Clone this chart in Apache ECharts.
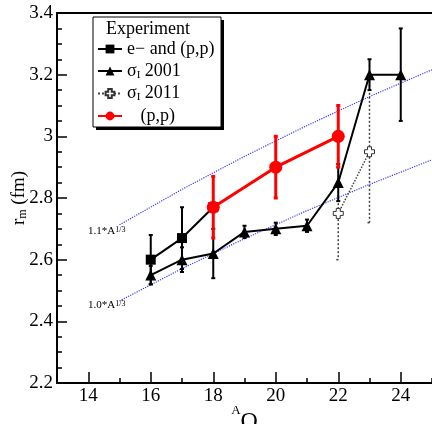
<!DOCTYPE html>
<html>
<head>
<meta charset="utf-8">
<script src="https://cdn.jsdelivr.net/npm/echarts@6/dist/echarts.min.js"></script>
<style>
  html, body { margin: 0; padding: 0; background: #fff; }
  #main { width: 432px; height: 424px; }
</style>
</head>
<body>
<div id="main"></div>
<script>
  // e- and (p,p)
  var sqX = [16, 17, 18];
  var sqY = [2.60, 2.67, 2.77];
  var sqErr = [0.08, 0.10, 0];
  // sigma_I 2001
  var triX = [16, 17, 18, 19, 20, 21, 22, 23, 24];
  var triY = [2.55, 2.60, 2.62, 2.69, 2.70, 2.71, 2.85, 3.20, 3.20];
  var triErr = [0.03, 0.04, 0.08, 0.02, 0.02, 0.02, 0.06, 0.05, 0.15];
  // sigma_I 2011
  var crX = [22, 23];
  var crY = [2.75, 2.95];
  var crErr = [0.15, 0.23];
  // (p,p)
  var redX = [18, 20, 22];
  var redY = [2.77, 2.90, 3.00];
  var redErr = [0.10, 0.10, 0.10];
  // r = c*A^(1/3) guide lines
  var refA = [15, 17, 19, 21, 23, 25];
  var ref10 = [2.466, 2.571, 2.668, 2.759, 2.844, 2.924];
  var ref11 = [2.713, 2.828, 2.935, 3.035, 3.129, 3.216];
  var xMajor = [14, 16, 18, 20, 22, 24];

  var serif = 'Liberation Serif';

  function pts(xs, ys) {
    return xs.map(function (x, i) { return [x, ys[i]]; });
  }
  function errPts(xs, ys, es) {
    return xs.map(function (x, i) { return [x, ys[i], es[i]]; });
  }
  function errorBars(color, width, dash) {
    return function (params, api) {
      var x = api.value(0), y = api.value(1), e = api.value(2);
      if (!e) return null;
      var top = api.coord([x, y + e]);
      var bot = api.coord([x, y - e]);
      var style = { stroke: color, lineWidth: width, lineDash: dash || null };
      return {
        type: 'group',
        children: [
          { type: 'line', shape: { x1: top[0], y1: top[1], x2: bot[0], y2: bot[1] }, style: style },
          { type: 'line', shape: { x1: top[0] - 2, y1: top[1], x2: top[0] + 2, y2: top[1] }, style: style },
          { type: 'line', shape: { x1: bot[0] - 2, y1: bot[1], x2: bot[0] + 2, y2: bot[1] }, style: style }
        ]
      };
    };
  }

  var names = {
    'e− and (p,p)': '{t|e− and (p,p)}',
    'σI 2001': '{t|σ}{sub|I}{t| 2001}',
    'σI 2011': '{t|σ}{sub|I}{t| 2011}',
    '(p,p)': '{t|   (p,p)}'
  };

  var chart = echarts.init(document.getElementById('main'));
  var option = {
    animation: false,
    grid: { left: 57, top: 13, right: 0, bottom: 41, containLabel: false, outerBoundsMode: 'none' },
    xAxis: [
      {
        type: 'value', min: 13, max: 25, interval: 1, position: 'bottom',
        axisLine: { lineStyle: { color: '#000', width: 2 } },
        axisTick: { inside: true, length: 5, lineStyle: { color: '#000', width: 1.5 } },
        axisLabel: { customValues: xMajor, color: '#000', fontFamily: serif, fontSize: 19, margin: 4 },
        splitLine: { show: false },
        name: '{sup|A}{o|O}',
        nameLocation: 'middle',
        nameGap: 21,
        nameMoveOverlap: false,
        nameTextStyle: {
          rich: {
            sup: { fontFamily: serif, fontSize: 13, color: '#000', verticalAlign: 'top' },
            o: { fontFamily: serif, fontSize: 24, color: '#000', padding: [6, 0, 0, 0] }
          }
        }
      },
      {
        type: 'value', min: 13, max: 25, interval: 1, position: 'bottom',
        axisLine: { show: false },
        axisTick: { inside: true, length: 11, customValues: xMajor, lineStyle: { color: '#000', width: 1.5 } },
        axisLabel: { show: false },
        splitLine: { show: false }
      },
      {
        type: 'value', min: 13, max: 25, position: 'top',
        axisLine: { lineStyle: { color: '#000', width: 2 } },
        axisTick: { show: false },
        axisLabel: { show: false },
        splitLine: { show: false }
      }
    ],
    yAxis: {
      type: 'value', min: 2.2, max: 3.4, interval: 0.2,
      axisLine: { show: true, lineStyle: { color: '#000', width: 2 } },
      axisTick: { show: true, inside: true, length: 10, lineStyle: { color: '#000', width: 1.5 } },
      minorTick: { show: true, splitNumber: 4, length: 5, lineStyle: { color: '#000', width: 1.5 } },
      axisLabel: {
        color: '#000', fontFamily: serif, fontSize: 19, margin: 4,
        formatter: function (v) { return String(Math.round(v * 10) / 10); }
      },
      splitLine: { show: false },
      name: '{r|r}{m|m}{r| (fm)}',
      nameLocation: 'middle',
      nameRotate: 90,
      nameGap: 28,
      nameMoveOverlap: false,
      nameTextStyle: {
        rich: {
          r: { fontFamily: serif, fontSize: 19, color: '#000' },
          m: { fontFamily: serif, fontSize: 12, color: '#000', verticalAlign: 'bottom' }
        }
      }
    },
    legend: {
      orient: 'vertical',
      left: 97, top: 40,
      padding: 0,
      itemWidth: 24, itemHeight: 11, itemGap: 4,
      selectedMode: false,
      z: 20,
      data: ['e− and (p,p)', 'σI 2001', 'σI 2011', '(p,p)'],
      formatter: function (n) { return names[n]; },
      textStyle: {
        rich: {
          t: { fontFamily: serif, fontSize: 18, lineHeight: 19, color: '#000' },
          sub: { fontFamily: serif, fontSize: 11, lineHeight: 19, color: '#000', verticalAlign: 'bottom', padding: [6, 0, 0, 0] }
        }
      }
    },
    graphic: [
      { type: 'rect', z: 10, shape: { x: 96, y: 20, width: 128, height: 110 }, style: { fill: '#000' } },
      { type: 'rect', z: 11, shape: { x: 93, y: 17, width: 128, height: 110 }, style: { fill: '#fff', stroke: '#000', lineWidth: 1 } },
      { type: 'text', z: 12, left: 106, top: 20, style: { text: 'Experiment', font: '18px "Liberation Serif"', fill: '#000' } },
      {
        type: 'text', z: 12, left: 88, top: 226,
        style: {
          text: '{a|1.1*A}{b|1/3}',
          rich: {
            a: { fontFamily: serif, fontSize: 11, fill: '#000', color: '#000', verticalAlign: 'bottom' },
            b: { fontFamily: serif, fontSize: 8, fill: '#000', color: '#000', verticalAlign: 'top' }
          }
        }
      },
      {
        type: 'text', z: 12, left: 88, top: 300,
        style: {
          text: '{a|1.0*A}{b|1/3}',
          rich: {
            a: { fontFamily: serif, fontSize: 11, fill: '#000', color: '#000', verticalAlign: 'bottom' },
            b: { fontFamily: serif, fontSize: 8, fill: '#000', color: '#000', verticalAlign: 'top' }
          }
        }
      }
    ],
    series: [
      {
        type: 'line', name: '1.1', data: pts(refA, ref11), symbol: 'none', z: 1,
        lineStyle: { color: '#3a3aff', width: 1.2, type: 'dotted' }
      },
      {
        type: 'line', name: '1.0', data: pts(refA, ref10), symbol: 'none', z: 1,
        lineStyle: { color: '#3a3aff', width: 1.2, type: 'dotted' }
      },
      {
        type: 'custom', name: 'crErr', data: errPts(crX, crY, crErr), z: 2,
        renderItem: errorBars('#444', 1.5, [2, 2])
      },
      {
        type: 'line', name: 'σI 2011', data: pts(crX, crY), z: 3,
        symbol: 'path://M3,0H7V3H10V7H7V10H3V7H0V3H3Z', symbolSize: 10,
        itemStyle: { color: '#fff', borderColor: '#333', borderWidth: 1 },
        lineStyle: { color: '#444', width: 1.5, type: 'dotted' }
      },
      {
        type: 'custom', name: 'triErr', data: errPts(triX, triY, triErr), z: 4,
        renderItem: errorBars('#000', 2)
      },
      {
        type: 'line', name: 'σI 2001', data: pts(triX, triY), z: 5,
        symbol: 'triangle', symbolSize: 11,
        itemStyle: { color: '#000' },
        lineStyle: { color: '#000', width: 2 }
      },
      {
        type: 'custom', name: 'sqErr', data: errPts(sqX, sqY, sqErr), z: 4,
        renderItem: errorBars('#000', 2)
      },
      {
        type: 'line', name: 'e− and (p,p)', data: pts(sqX, sqY), z: 5,
        symbol: 'rect', symbolSize: 10,
        itemStyle: { color: '#000' },
        lineStyle: { color: '#000', width: 2 }
      },
      {
        type: 'custom', name: 'redErr', data: errPts(redX, redY, redErr), z: 6,
        renderItem: errorBars('#ff0000', 3)
      },
      {
        type: 'line', name: '(p,p)', data: pts(redX, redY), z: 7,
        symbol: 'circle', symbolSize: 13,
        itemStyle: { color: '#ff0000' },
        lineStyle: { color: '#ff0000', width: 3 }
      }
    ]
  };
  chart.setOption(option);
</script>
</body>
</html>
